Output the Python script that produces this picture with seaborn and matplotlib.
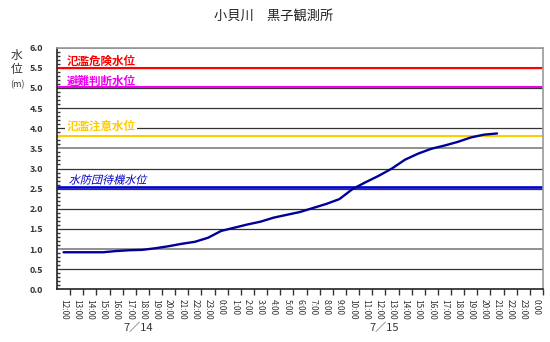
import numpy as np
import pandas as pd
import matplotlib
matplotlib.use("Agg")
import matplotlib.pyplot as plt
import seaborn as sns
from matplotlib.patheffects import AbstractPathEffect
from matplotlib.transforms import Affine2D

# ---- data ----
tick_labels = [f"{h}:00" for h in range(12, 24)] + [f"{h}:00" for h in range(0, 24)] + ["0:00"]
water_level = [0.92, 0.92, 0.92, 0.92, 0.95, 0.97, 0.98, 1.02, 1.07, 1.13, 1.18, 1.28,
               1.45, 1.53, 1.61, 1.68, 1.78, 1.85, 1.92, 2.02, 2.12, 2.24, 2.49, 2.66,
               2.82, 3.00, 3.22, 3.37, 3.49, 3.57, 3.66, 3.77, 3.84, 3.87]
thresh_names = ["氾濫危険水位", "避難判断水位", "氾濫注意水位", "水防団待機水位"]
thresh_values = [5.5, 5.03, 3.8, 2.53]
thresh_colors = ["#FF0000", "#EE00EE", "#FFCC00", "#0000CC"]
date_labels = ["7／14", "7／15"]
date_pos = [5.7, 24.4]
title = "小貝川　黒子観測所"


class Skew(AbstractPathEffect):
    def __init__(self, deg=14):
        super().__init__()
        self.deg = deg

    def draw_path(self, renderer, gc, tpath, affine, rgbFace=None):
        x0, y0 = affine.transform((0, 0))
        sk = Affine2D().translate(-x0, -y0).skew_deg(self.deg, 0).translate(x0, y0)
        renderer.draw_path(gc, tpath, affine + sk, rgbFace)


sns.set_theme(style="white")
plt.rcParams['font.family'] = ['Noto Sans CJK JP', 'DejaVu Sans']

fig = plt.figure(figsize=(5.5, 3.42), dpi=100)
ax = fig.add_axes([57/550, 1-289.3/342, 486/550, (289.3-47.7)/342])

df = pd.DataFrame({"idx": np.arange(len(water_level)), "level": water_level})

# grid lines
for g in np.arange(0.5, 6.01, 0.5):
    if abs(g - 1.0) < 1e-6 or abs(g - 3.5) < 1e-6 or abs(g - 6.0) < 1e-6:
        ax.axhline(g, color="#909090", lw=1.4, zorder=1)
    else:
        ax.axhline(g, color="#333333", lw=0.9, zorder=1)

# thresholds
for name, v, c in zip(thresh_names, thresh_values, thresh_colors):
    ax.axhline(v, color=c, lw=1.5 if c != "#0000CC" else 1.9, zorder=2)

label_y = [5.67, 5.16, 4.04, 2.70]
for i, (name, c, ly) in enumerate(zip(thresh_names, thresh_colors, label_y)):
    kw = dict(color=c, fontsize=8.3, fontweight="bold", ha="left", va="center",
              transform=ax.get_yaxis_transform(), zorder=4)
    if i == 3:
        kw["fontweight"] = "normal"
        kw["fontsize"] = 8.0
        kw["path_effects"] = [Skew(14)]
    if i == 2:
        kw["bbox"] = dict(facecolor="white", edgecolor="none", pad=1.2)
    ax.text(0.02 if i != 3 else 0.024, ly, name, **kw)

sns.lineplot(data=df, x="idx", y="level", ax=ax, color="#000099", lw=1.7, zorder=3)

ax.set_xlim(-0.5, 36.5)
ax.set_ylim(0, 6)
ax.set_xticks(np.arange(len(tick_labels)))
ax.set_xticklabels(tick_labels, rotation=270, fontsize=6, color="#333333")
ax.set_xticks(np.arange(len(tick_labels)) + 0.5, minor=True)
ax.tick_params(axis="x", which="major", length=0, pad=7)
ax.tick_params(axis="x", which="minor", length=4, direction="out", color="#333333", bottom=True)
for lbl in ax.get_xticklabels():
    lbl.set_va("top")
    lbl.set_ha("center")

ax.set_yticks(np.arange(0, 6.01, 0.5))
ax.set_yticklabels([f"{v:.1f}" for v in np.arange(0, 6.01, 0.5)], fontsize=6.5, color="#333333", fontweight="bold")
ax.set_yticks(np.arange(0, 6.01, 0.1), minor=True)
ax.tick_params(axis="y", which="major", length=0, pad=10)
ax.tick_params(axis="y", which="minor", length=2, direction="in", color="#333333", left=True)

ax.set_xlabel("")
ax.set_ylabel("")

for s in ["left", "bottom"]:
    ax.spines[s].set_color("#222222")
    ax.spines[s].set_linewidth(1.2)
for s in ["right", "top"]:
    ax.spines[s].set_color("#999999")
    ax.spines[s].set_linewidth(1.2)

for dl, dp in zip(date_labels, date_pos):
    ax.text(dp, -0.16, dl, transform=ax.get_xaxis_transform(), ha="center", va="center",
            fontsize=8, color="#333333")

fig.text(0.497, 0.953, title, ha="center", va="center", fontsize=9.5, color="#222222")
fig.text(17/550, 1-55/342, "水", ha="center", va="center", fontsize=8.5, color="#333333")
fig.text(17/550, 1-70/342, "位", ha="center", va="center", fontsize=8.5, color="#333333")
fig.text(17/550, 1-85/342, "(m)", ha="center", va="center", fontsize=6.5, color="#333333")

fig.savefig("out.png", dpi=100, facecolor="white")
